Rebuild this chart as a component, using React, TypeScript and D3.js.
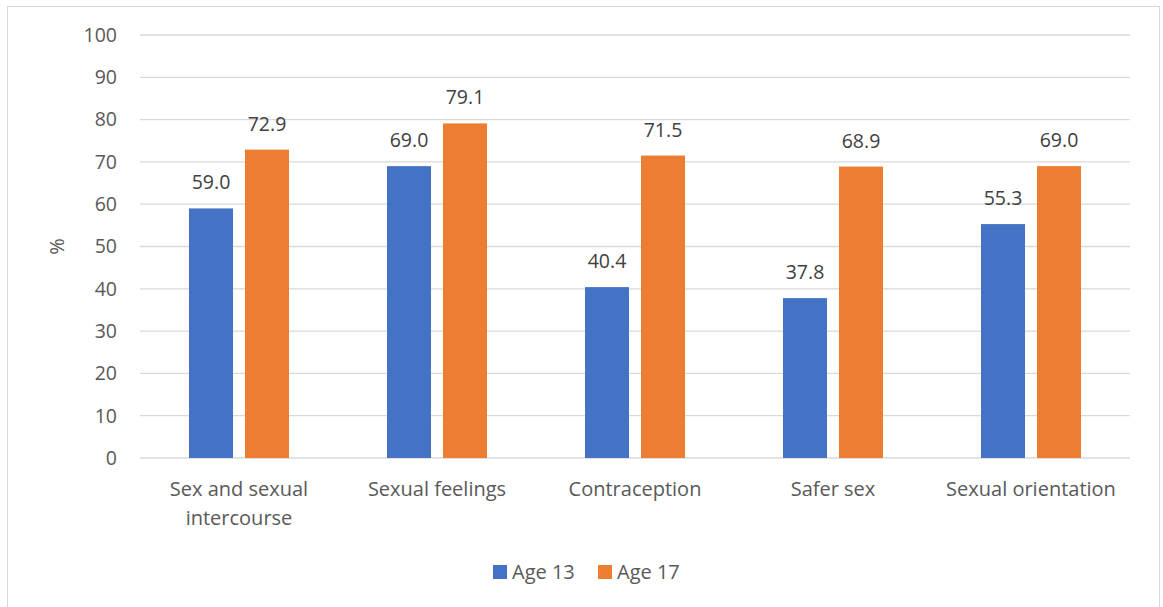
import React from "react";
import * as d3 from "d3";

const categories = [
  ["Sex and sexual", "intercourse"],
  ["Sexual feelings"],
  ["Contraception"],
  ["Safer sex"],
  ["Sexual orientation"],
];
const seriesNames = ["Age 13", "Age 17"];
const age13 = [59.0, 69.0, 40.4, 37.8, 55.3];
const age17 = [72.9, 79.1, 71.5, 68.9, 69.0];
const yTicks = [0, 10, 20, 30, 40, 50, 60, 70, 80, 90, 100];
const colors = ["#4472C4", "#ED7D31"];

const W = 1163;
const H = 607;
const left = 140;
const right = 1130;
const top = 35;
const bottom = 458;
const font = "'Open Sans', sans-serif";
const textColor = "#595959";
const fs = 20;

export default function App() {
  const x = d3
    .scaleBand<number>()
    .domain(d3.range(categories.length))
    .range([left, right])
    .paddingInner(0)
    .paddingOuter(0);
  const y = d3.scaleLinear().domain([0, 100]).range([bottom, top]);
  const bw = 44;
  const gap = 12;
  const series = [age13, age17];

  return (
    <svg
      width={W}
      height={H}
      style={{ position: "absolute", left: 0, top: 0 }}
      fontFamily={font}
    >
      <rect x={0} y={0} width={W} height={H} fill="#fff" />
      <rect x={7.5} y={6.5} width={1152} height={610} fill="#fff" stroke="#d9d9d9" strokeWidth={1} />
      {yTicks.map((t) => (
        <g key={t}>
          <line x1={left} x2={right} y1={y(t)} y2={y(t)} stroke="#d9d9d9" strokeWidth={1.3} />
          <text
            x={117}
            y={y(t)}
            dy="0.35em"
            textAnchor="end"
            fontSize={fs - 0.5}
            fill={textColor}
          >
            {t}
          </text>
        </g>
      ))}
      <text
        transform={`translate(64,${(top + bottom) / 2}) rotate(-90)`}
        textAnchor="middle"
        fontSize={fs}
        fill={textColor}
      >
        %
      </text>
      {categories.map((c, i) => {
        const cx = (x(i) as number) + x.bandwidth() / 2;
        return (
          <g key={i}>
            {series.map((s, k) => {
              const bx = cx + (k === 0 ? -gap / 2 - bw : gap / 2);
              return (
                <g key={k}>
                  <rect
                    x={bx}
                    y={y(s[i])}
                    width={bw}
                    height={y(0) - y(s[i])}
                    fill={colors[k]}
                  />
                  <text
                    x={bx + bw / 2}
                    y={y(s[i]) - 19}
                    textAnchor="middle"
                    fontSize={fs - 0.5}
                    fill="#404040"
                  >
                    {s[i].toFixed(1)}
                  </text>
                </g>
              );
            })}
            {c.map((line, li) => (
              <text
                key={li}
                x={cx}
                y={496 + li * 29}
                textAnchor="middle"
                fontSize={fs}
                fill={textColor}
              >
                {line}
              </text>
            ))}
          </g>
        );
      })}
      {seriesNames.map((n, k) => {
        const lx = k === 0 ? 493 : 598;
        return (
          <g key={n}>
            <rect x={lx} y={565} width={14} height={14} fill={colors[k]} />
            <text x={lx + 19} y={579} fontSize={fs} fill={textColor}>
              {n}
            </text>
          </g>
        );
      })}
    </svg>
  );
}
